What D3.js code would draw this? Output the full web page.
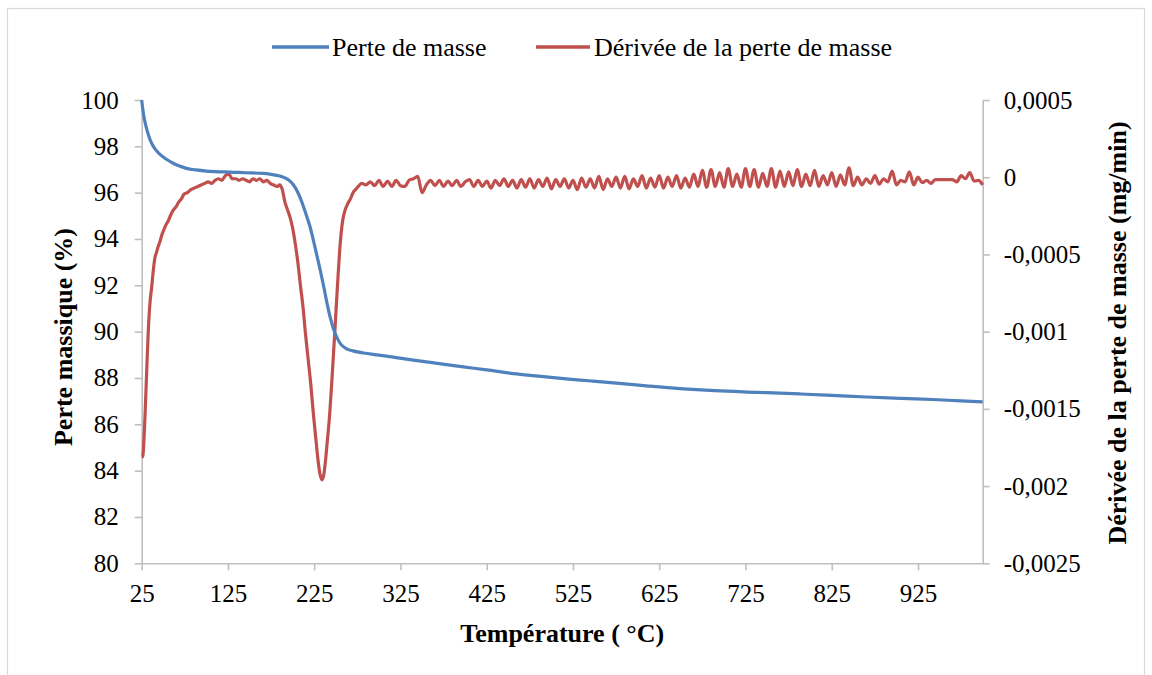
<!DOCTYPE html>
<html>
<head>
<meta charset="utf-8">
<script src="https://cdn.jsdelivr.net/npm/d3@7"></script>
<style>
  html, body { margin: 0; padding: 0; background: #fff; }
  svg text { font-family: "Liberation Serif", "Times New Roman", serif; fill: #000; }
</style>
</head>
<body>
<svg id="chart" width="1152" height="675"></svg>
<script>
// ---- Data ----
const seriesNames = ["Perte de masse", "Dérivée de la perte de masse"];
const xTicks = [25, 125, 225, 325, 425, 525, 625, 725, 825, 925];
const leftTicks = [80, 82, 84, 86, 88, 90, 92, 94, 96, 98, 100];
const rightTicks = [-0.0025, -0.002, -0.0015, -0.001, -0.0005, 0, 0.0005];

// Mass loss (%)
const massT = [25, 26, 27.5, 29, 31, 33, 36, 40, 45, 50, 55, 61, 68, 77, 88, 100, 115, 127, 145, 166, 175, 185, 191, 197, 201, 205, 209, 213, 217, 220, 224, 228, 232, 236, 240, 244, 248, 252, 256, 262, 270, 282, 300, 320, 340, 370, 398, 425, 456, 485, 514, 543, 572, 610, 649, 690, 740, 788, 825, 865, 905, 942, 975, 1000];
const massV = [100, 99.68, 99.3, 99.02, 98.72, 98.47, 98.17, 97.91, 97.7, 97.54, 97.41, 97.28, 97.16, 97.05, 96.98, 96.93, 96.9, 96.89, 96.86, 96.83, 96.79, 96.72, 96.64, 96.5, 96.33, 96.08, 95.75, 95.35, 94.9, 94.55, 93.95, 93.3, 92.65, 91.95, 91.2, 90.55, 90.05, 89.7, 89.45, 89.27, 89.17, 89.08, 88.99, 88.88, 88.77, 88.62, 88.48, 88.35, 88.19, 88.08, 87.97, 87.88, 87.79, 87.66, 87.54, 87.45, 87.38, 87.31, 87.25, 87.18, 87.12, 87.07, 87.01, 86.97];

// Derivative of mass loss (mg/min)
const derivT = [25, 26, 28.8, 30.5, 32.6, 34.5, 36.6, 38.5, 40.4, 42, 44, 46, 48, 50, 53, 56, 59, 62, 65, 68, 71, 74, 78, 82, 86, 90, 94, 98, 102, 106, 110, 114, 118, 122, 126, 130, 134, 138, 142, 146, 150, 154, 158, 162, 166, 170, 174, 178, 182, 185, 188, 191, 194, 197, 200, 203, 206, 209, 212, 215, 218, 221, 224, 227, 230, 232, 234, 236, 238, 240, 243, 246, 249, 252, 255, 258, 261, 264, 267, 270, 273, 276, 280, 285,
  290, 295, 300, 305, 310, 315, 320, 325, 330, 335, 340, 345, 350, 355, 360, 365, 370, 375, 380, 385,
  390, 395, 400, 405, 410, 415, 420, 425, 430, 435, 440, 445, 450, 455, 460, 465, 470, 475, 480, 485,
  490, 495, 500, 505, 510, 515, 520, 525, 530, 535, 540, 545, 550, 555, 560, 565, 570, 575, 580, 585,
  590, 595, 600, 605, 610, 615, 620, 625, 630, 635, 640, 645, 650, 655, 660, 665, 670, 675, 680, 685,
  690, 695, 700, 705, 710, 715, 720, 725, 730, 735, 740, 745, 750, 755, 760, 765, 770, 775, 780, 785,
  790, 795, 800, 805, 810, 815, 820, 825, 830, 835, 840, 845, 850, 855, 860, 865, 870, 875, 880, 885,
  890, 895, 900, 905, 910, 915, 920, 925, 930, 935, 940, 945, 950, 955, 960, 965, 970, 975, 980, 985,
  990, 995, 1000];
const derivV = [-0.00181, -0.00181, -0.00155, -0.0013, -0.001, -0.00082, -0.00071, -0.0006, -0.00052, -0.00049, -0.00045, -0.00042, -0.00038, -0.00035, -0.00031, -0.00028, -0.00024, -0.00021, -0.00019, -0.00016, -0.00014, -0.00011, -0.0001, -0.00008, -0.00007, -0.00006, -0.00005, -0.00004, -0.00003, -0.00004, -0.00002, -0.00001, -0.00002, 0.00001, 0.00002, -0.00001, -0.00001, -0.00002, -0.00001, -0.00002, -0.00003, -0.00001, -0.00002, -0.00001, -0.00003, -0.00002, -0.00004, -0.00005, -0.00006, -0.00005, -0.00008, -0.00016, -0.00021, -0.00026, -0.00033, -0.00043, -0.00055, -0.0007, -0.00084, -0.00102, -0.00118, -0.00134, -0.00153, -0.0017, -0.00186, -0.00193, -0.00196, -0.00193, -0.00184, -0.00172, -0.00153, -0.00127, -0.00099, -0.0007, -0.00044, -0.00028, -0.00021, -0.00017, -0.00014, -0.0001, -0.00008, -0.00006, -0.00004, -0.00005,
  -0.00003, -0.000055, -0.00002, -0.00006, -0.000025, -0.00006, -0.00002, -0.000055, -0.00006, -0.00002, -0.00001, 0.000005, -0.0001, -0.00005, -0.00002, -0.000055, -0.00002, -0.00006, -0.000025, -0.000055,
  -0.00002, -0.00006, -0.00003, -0.000015, -0.00006, -0.00002, -0.00006, -0.000025, -0.00007, -0.00002, -0.000055, -0.00001, -0.00006, -0.00002, -0.00007, -0.000015, -0.000065, -0.00001, -0.00007, -0.000015,
  -0.00006, -0.000005, -0.000075, -0.000015, -0.00006, -0.00001, -0.00007, -0.00002, -0.00008, -0.000005, -0.000065, -0.00001, -0.00007, 0.000005, -0.00008, -0.00001, -0.00006, 0, -0.00007, 0.000005,
  -0.000075, -0.00001, -0.00006, 0.00001, -0.00007, -0.000005, -0.000065, 0.00001, -0.00007, 0, -0.00006, 0.00001, -0.00007, -0.000005, -0.000065, 0.00002, -0.00006, 0.000045, -0.000065, 0.00005,
  -0.00006, 0.00003, -0.000065, 0.000055, -0.00006, 0.00002, -0.000065, 0.000055, -0.00006, 0.00005, -0.000065, 0.000025, -0.00006, 0.000055, -0.000065, 0.00004, -0.00006, 0.000035, -0.000055, 0.00005,
  -0.00006, 0.00002, -0.000055, 0.000045, -0.00006, 0.00001, -0.00005, 0.00003, -0.00006, 0.000015, -0.00005, 0.00006, -0.000055, 0, -0.00005, -0.00001, -0.00004, 0.00001, -0.000045, -0.00001,
  -0.00003, 0.00004, -0.00005, -0.00002, -0.00003, 0.000035, -0.00005, 0, -0.000035, -0.00002, -0.00004, -0.000015, -0.000015, -0.000015, -0.000015, -0.000015, -0.00003, 0.00001, -0.00001, 0.00003,
  -0.000025, -0.00002, -0.00005];

// ---- Chart ----
const svg = d3.select("#chart");
const plot = { left: 141.7, right: 982.7, top: 100, bottom: 563.3 };
const blue = "#4F81BD", red = "#C0504D", axisGray = "#BFBFBF";
const serif = '"Liberation Serif", "Times New Roman", serif';

svg.append("rect").attr("x", 7.5).attr("y", 8.5).attr("width", 1137).attr("height", 720)
  .attr("fill", "#fff").attr("stroke", "#D9D9D9").attr("stroke-width", 1.2);

const x = d3.scaleLinear().domain([25, 1000]).range([plot.left, plot.right]);
const yL = d3.scaleLinear().domain([80, 100]).range([plot.bottom, plot.top]);
const yR = d3.scaleLinear().domain([-0.0025, 0.0005]).range([plot.bottom, plot.top]);

const fmtComma = d => d === 0 ? "0" : String(d).replace(".", ",");

function styleAxis(g) {
  g.attr("font-family", null).attr("font-size", null);
  g.select(".domain").attr("stroke", axisGray).attr("stroke-width", 1.6);
  g.selectAll(".tick line").attr("stroke", axisGray).attr("stroke-width", 1.6);
  g.selectAll(".tick text").style("font-size", "25px").style("font-family", serif).attr("fill", "#000");
}

svg.append("g").attr("transform", `translate(0,${plot.bottom})`)
  .call(d3.axisBottom(x).tickValues(xTicks).tickSize(7).tickPadding(14).tickSizeOuter(0))
  .call(styleAxis);
svg.append("g").attr("transform", `translate(${plot.left},0)`)
  .call(d3.axisLeft(yL).tickValues(leftTicks).tickSize(7).tickPadding(16).tickSizeOuter(0))
  .call(styleAxis);
svg.append("g").attr("transform", `translate(${plot.right},0)`)
  .call(d3.axisRight(yR).tickValues(rightTicks).tickSize(7).tickPadding(14).tickSizeOuter(0).tickFormat(fmtComma))
  .call(styleAxis);

// Lines
const massData = massT.map((t, i) => [t, massV[i]]);
const derivData = derivT.map((t, i) => [t, derivV[i]]);

svg.append("path").datum(derivData)
  .attr("fill", "none").attr("stroke", red).attr("stroke-width", 3.2).attr("stroke-linejoin", "round")
  .attr("d", d3.line().x(d => x(d[0])).y(d => yR(d[1])).curve(d3.curveMonotoneX));
svg.append("path").datum(massData)
  .attr("fill", "none").attr("stroke", blue).attr("stroke-width", 3.2).attr("stroke-linejoin", "round")
  .attr("d", d3.line().x(d => x(d[0])).y(d => yL(d[1])).curve(d3.curveMonotoneX));

// Axis titles
svg.append("text").attr("x", (plot.left + plot.right) / 2).attr("y", 642)
  .attr("text-anchor", "middle").style("font-size", "26px").style("font-family", serif).attr("font-weight", "bold")
  .text("Température ( °C)");
svg.append("text").attr("transform", "translate(72,337) rotate(-90)")
  .attr("text-anchor", "middle").style("font-size", "26px").style("font-family", serif).attr("font-weight", "bold")
  .text("Perte massique (%)");
svg.append("text").attr("transform", "translate(1126,333) rotate(-90)")
  .attr("text-anchor", "middle").style("font-size", "26px").style("font-family", serif).attr("font-weight", "bold")
  .text("Dérivée de la perte de masse (mg/min)");

// Legend
const legend = [
  { name: seriesNames[0], color: blue, x1: 272, x2: 329, tx: 332 },
  { name: seriesNames[1], color: red, x1: 536, x2: 590, tx: 594 }
];
const lg = svg.append("g");
legend.forEach(l => {
  lg.append("line").attr("x1", l.x1).attr("x2", l.x2).attr("y1", 47).attr("y2", 47)
    .attr("stroke", l.color).attr("stroke-width", 3.5);
  lg.append("text").attr("x", l.tx).attr("y", 55.5).style("font-size", "26px").style("font-family", serif).text(l.name);
});
</script>
</body>
</html>
